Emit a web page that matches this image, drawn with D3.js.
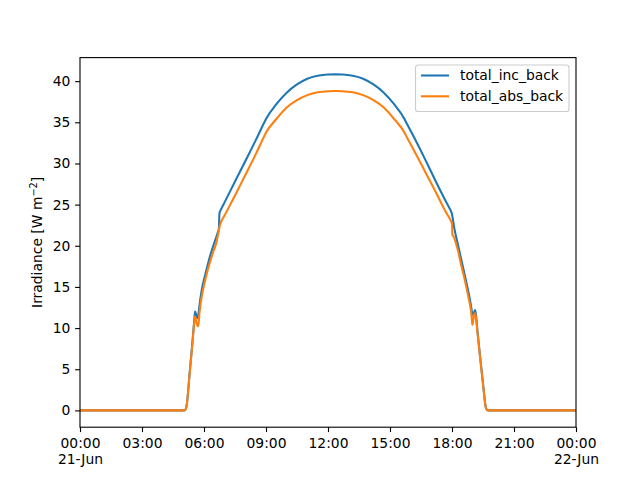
<!DOCTYPE html>
<html>
<head>
<meta charset="utf-8">
<script src="https://cdn.jsdelivr.net/npm/d3@7"></script>
<style>
  body { margin: 0; background: #fff; }
  svg { display: block; font-family: "DejaVu Sans", sans-serif; }
</style>
</head>
<body>
<svg id="chart" width="640" height="480"></svg>
<script>
// ---- data ----
const times = ["00:00","05:00","05:05","05:08","05:10","05:18","05:27","05:32","05:34","05:36","05:38","05:41","05:43","05:47","05:51","05:55","06:00","06:09","06:18","06:27","06:36","06:40","06:43","06:45","06:47","07:00","07:30","08:00","08:30","08:57","09:00","09:30","10:00","10:30","11:00","11:30","12:00","12:21","12:42","13:12","13:42","14:12","14:42","15:12","15:42","15:45","16:12","16:42","17:12","17:42","17:57","17:59","18:00","18:01","18:06","18:18","18:27","18:33","18:41","18:48","18:54","18:57","18:59","19:02","19:05","19:07","19:09","19:15","19:24","19:33","19:37","19:41","19:45","24:00"];
const totalIncBack = [0,0,0.05,0.3,0.7,4.4,8.6,11.1,12.0,11.8,11.5,11.2,11.5,12.8,14.0,15.0,15.9,17.4,18.8,20.0,21.1,21.6,22.0,24.0,24.2,25.3,27.8,30.3,32.8,35.15,35.4,37.2,38.6,39.6,40.3,40.65,40.8,40.82,40.8,40.65,40.3,39.6,38.6,37.2,35.4,35.15,33.0,30.5,27.9,25.4,24.2,24.0,23.8,23.6,22.3,20.0,18.3,17.2,15.7,14.3,13.0,12.2,11.7,11.6,12.0,12.2,11.8,9.2,5.6,2.1,0.6,0.1,0,0];
const totalAbsBack = [0,0,0.05,0.3,0.7,4.3,8.4,10.8,11.4,11.1,10.7,10.3,10.2,11.9,13.2,14.2,15.2,16.8,18.1,19.3,20.4,21.2,21.8,22.3,22.6,23.7,26.1,28.6,31.1,33.5,33.75,35.4,36.8,37.7,38.3,38.65,38.78,38.8,38.78,38.65,38.3,37.7,36.8,35.4,33.75,33.5,31.4,29.0,26.6,24.1,23.0,22.8,22.7,21.4,21.0,19.3,17.6,16.6,15.1,13.7,12.4,11.4,10.4,11.0,11.7,11.8,11.4,9.0,5.5,2.0,0.6,0.1,0,0];
const seriesNames = ["total_inc_back", "total_abs_back"];
const seriesColors = ["#1f77b4", "#ff7f0e"];
const yTicks = [0, 5, 10, 15, 20, 25, 30, 35, 40];
const xTickHours = [0, 3, 6, 9, 12, 15, 18, 21, 24];
const xTickLabels = [["00:00","21-Jun"],["03:00"],["06:00"],["09:00"],["12:00"],["15:00"],["18:00"],["21:00"],["00:00","22-Jun"]];
const dayStart = Date.UTC(2019, 5, 21);

// ---- helpers ----
function toDate(s) {
  const [h, m] = s.split(":").map(Number);
  return new Date(dayStart + (h * 60 + m) * 60000);
}

// ---- layout ----
const svg = d3.select("#chart");
const pL = 80, pR = 576, pT = 57.6, pB = 427.2;
const fs = 13.89;

const x = d3.scaleUtc()
  .domain([new Date(dayStart), new Date(dayStart + 24 * 3600000)])
  .range([pL, pR]);
const y = d3.scaleLinear().domain([-2.041, 42.861]).range([pB, pT]);

const clipId = "plotclip";
svg.append("defs").append("clipPath").attr("id", clipId)
  .append("rect").attr("x", pL).attr("y", pT).attr("width", pR - pL).attr("height", pB - pT);

const dates = times.map(toDate);
const seriesData = [totalIncBack, totalAbsBack];

const line = d3.line()
  .x((d, i) => x(dates[i]))
  .y(d => y(d))
  .curve(d3.curveMonotoneX);

const plot = svg.append("g").attr("clip-path", `url(#${clipId})`);
seriesData.forEach((vals, k) => {
  plot.append("path")
    .attr("d", line(vals))
    .attr("fill", "none")
    .attr("stroke", seriesColors[k])
    .attr("stroke-width", 2.08)
    .attr("stroke-linejoin", "round")
    .attr("stroke-linecap", "square");
});

// ---- axes ----
const tickLen = 4.86, tickPad = 4.86;
const xAxis = d3.axisBottom(x)
  .tickValues(xTickHours.map(h => new Date(dayStart + h * 3600000)))
  .tickSize(tickLen).tickPadding(tickPad)
  .tickFormat(() => "");
const gx = svg.append("g").attr("transform", `translate(0,${pB})`).call(xAxis);
gx.select(".domain").remove();
gx.selectAll(".tick line").attr("stroke", "#000").attr("stroke-width", 1.11);
gx.selectAll(".tick").each(function(d, i) {
  const t = d3.select(this).select("text")
    .attr("font-size", fs).attr("font-family", "DejaVu Sans").attr("fill", "#000")
    .attr("dy", null).attr("y", tickLen + tickPad + 10.6);
  xTickLabels[i].forEach((lab, j) => {
    t.append("tspan").attr("x", 0).attr("dy", j === 0 ? 0 : 16.67).text(lab);
  });
});

const yAxis = d3.axisLeft(y).tickValues(yTicks).tickSize(tickLen).tickPadding(tickPad).tickFormat(d3.format("d"));
const gy = svg.append("g").attr("transform", `translate(${pL},0)`).call(yAxis);
gy.select(".domain").remove();
gy.selectAll(".tick line").attr("stroke", "#000").attr("stroke-width", 1.11);
gy.selectAll(".tick text").attr("font-size", fs).attr("font-family", "DejaVu Sans").attr("fill", "#000");

// spines
svg.append("rect").attr("x", pL).attr("y", pT).attr("width", pR - pL).attr("height", pB - pT)
  .attr("fill", "none").attr("stroke", "#000").attr("stroke-width", 1.11);

// y label
const yl = svg.append("text")
  .attr("transform", `translate(42,${(pT + pB) / 2}) rotate(-90)`)
  .attr("text-anchor", "middle").attr("font-size", fs).attr("fill", "#000");
yl.append("tspan").text("Irradiance [W m");
yl.append("tspan").attr("font-size", fs * 0.7).attr("dy", -5.5).text("−2");
yl.append("tspan").attr("dy", 5.5).text("]");

// legend
const lg = svg.append("g");
lg.append("rect").attr("x", 415.5).attr("y", 65).attr("width", 153.5).attr("height", 46.5)
  .attr("rx", 2.8).attr("fill", "#fff").attr("fill-opacity", 0.8)
  .attr("stroke", "#cccccc").attr("stroke-width", 1.11);
seriesNames.forEach((name, k) => {
  const cy = 75.5 + k * 20.8;
  lg.append("line").attr("x1", 421).attr("x2", 449).attr("y1", cy).attr("y2", cy)
    .attr("stroke", seriesColors[k]).attr("stroke-width", 2.08);
  lg.append("text").attr("x", 460).attr("y", cy + 4.9).attr("font-size", fs).attr("fill", "#000").text(name);
});
</script>
</body>
</html>
